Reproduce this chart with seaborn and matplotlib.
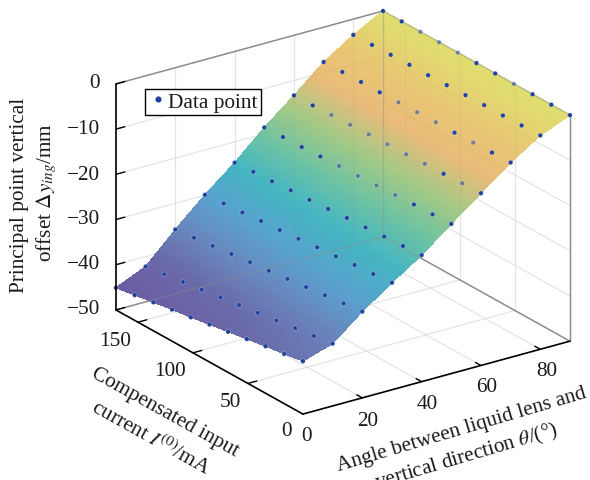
import numpy as np
import matplotlib
matplotlib.use("Agg")
import matplotlib.pyplot as plt
from matplotlib.lines import Line2D
import seaborn as sns

# lens angle (deg), compensated current (mA), vertical offset (mm)
theta = [0, 10, 20, 30, 40, 50, 60, 70, 80, 90]
current = [0, 17, 34, 51, 68, 85, 102, 119, 136, 153, 170]
offset = [
    [-38.3, -39.0, -39.6, -40.3, -41.0, -41.7, -42.4, -43.0, -43.7, -44.4, -45.1],
    [-36.2, -36.8, -37.4, -38.0, -38.6, -39.2, -39.8, -40.4, -41.0, -41.6, -42.2],
    [-30.9, -31.4, -31.9, -32.4, -32.9, -33.4, -33.8, -34.3, -34.8, -35.3, -35.8],
    [-26.3, -26.7, -27.0, -27.4, -27.7, -28.1, -28.5, -28.8, -29.2, -29.5, -29.9],
    [-22.0, -22.3, -22.5, -22.8, -23.0, -23.3, -23.6, -23.8, -24.1, -24.3, -24.6],
    [-16.9, -17.1, -17.2, -17.4, -17.6, -17.8, -17.9, -18.1, -18.3, -18.4, -18.6],
    [-11.9, -12.0, -12.2, -12.3, -12.5, -12.6, -12.7, -12.9, -13.0, -13.2, -13.3],
    [-6.9, -7.0, -7.1, -7.2, -7.2, -7.3, -7.4, -7.5, -7.5, -7.6, -7.7],
    [-2.7, -2.8, -2.9, -2.9, -3.0, -3.1, -3.2, -3.2, -3.3, -3.4, -3.5],
    [0.0, 0.0, 0.0, 0.0, 0.0, 0.0, 0.0, 0.0, 0.0, 0.0, 0.0],
]
theta_ticks = [20, 40, 60, 80]
current_ticks = [50, 100, 150]
offset_ticks = [0, -10, -20, -30, -40, -50]
# one stop per 5 mm from -45 to 0
surface_colors = ["#6b5ca2", "#6a6bab", "#6888bf", "#58a3cf", "#45b6c2",
                  "#6ec3a3", "#a6c985", "#eabb79", "#e8c873", "#dfdf6e"]
# dots half hidden by the surface: (theta index, current index)
faint_dots = [(9, 8), (9, 7), (9, 6), (9, 3),
              (7, 6), (7, 5), (7, 4), (7, 2),
              (6, 8), (6, 7), (6, 6), (6, 5), (6, 4), (6, 3), (6, 1),
              (5, 6), (5, 5), (5, 4), (5, 3)]

W, H = 590, 481
GRID = "#ececec"
EDGE = "#8c8c8c"
DOT = "#1f429c"

sns.set_theme(style="white")
plt.rcParams["font.family"] = ["Liberation Serif", "DejaVu Serif"]
plt.rcParams["mathtext.fontset"] = "stix"

def px(x, y):
    return x / W, 1 - y / H

fig = plt.figure(figsize=(W / 100, H / 100), dpi=100)
L = 700
ax = fig.add_axes([-16.5 / W, -92 / H, L / W, L / H], projection="3d", proj_type="ortho", computed_zorder=False)
ax.view_init(elev=22.95, azim=-125)
ax.set_box_aspect((1, 1, 0.753), zoom=0.7243)
ax.set_xlim(0, 90, view_margin=0)
ax.set_ylim(0, 170, view_margin=0)
ax.set_zlim(-50, 0, view_margin=0)
ax.set_axis_off()

t0, t1 = theta[0], theta[-1]
c0, c1 = current[0], current[-1]
z0, z1 = offset_ticks[-1], offset_ticks[0]

def draw_walls(grid_color, grid_alpha, edge_alpha, zorder):
    # grid on the floor and the two back walls
    for t in theta_ticks:
        ax.plot([t, t], [c0, c1], [z0, z0], color=grid_color, alpha=grid_alpha, lw=0.8, zorder=zorder)
        ax.plot([t, t], [c1, c1], [z0, z1], color=grid_color, alpha=grid_alpha, lw=0.8, zorder=zorder)
    for c in current_ticks:
        ax.plot([t0, t1], [c, c], [z0, z0], color=grid_color, alpha=grid_alpha, lw=0.8, zorder=zorder)
        ax.plot([t1, t1], [c, c], [z0, z1], color=grid_color, alpha=grid_alpha, lw=0.8, zorder=zorder)
    for z in offset_ticks[1:-1]:
        ax.plot([t0, t1], [c1, c1], [z, z], color=grid_color, alpha=grid_alpha, lw=0.8, zorder=zorder)
        ax.plot([t1, t1], [c0, c1], [z, z], color=grid_color, alpha=grid_alpha, lw=0.8, zorder=zorder)
    # grey box edges
    box_edges = [
        ([t0, t1], [c1, c1], [z1, z1]),
        ([t1, t1], [c0, c1], [z1, z1]),
        ([t1, t1], [c0, c0], [z0, z1]),
        ([t1, t1], [c1, c1], [z0, z1]),
        ([t1, t1], [c0, c1], [z0, z0]),
        ([t0, t1], [c1, c1], [z0, z0]),
    ]
    for xs, ys, zs in box_edges:
        ax.plot(xs, ys, zs, color=EDGE, alpha=edge_alpha, lw=1.0, zorder=zorder + 0.1)

draw_walls(GRID, 1.0, 1.0, 1)

# fine mesh only for smooth colour shading of the measured grid
Z = np.array(offset)
fine_t = np.linspace(t0, t1, 181)
fine_c = np.linspace(c0, c1, 171)
Zc = np.array([np.interp(fine_c, current, row) for row in Z])
Zf = np.array([np.interp(fine_t, theta, col) for col in Zc.T])
Tf, Cf = np.meshgrid(fine_t, fine_c)
cmap = sns.blend_palette(surface_colors, as_cmap=True)
face = cmap(np.clip((Zf + 45) / 45, 0, 1))
ax.plot_surface(Tf, Cf, Zf, facecolors=face, rstride=1, cstride=1, linewidth=0, antialiased=False, shade=False, zorder=2)

# walls showing faintly through the surface
draw_walls("#707070", 0.07, 0.4, 2.5)

T, C = np.meshgrid(theta, current, indexing="ij")
dot_rgba = np.tile(matplotlib.colors.to_rgba(DOT), (T.size, 1))
for i, j in faint_dots:
    dot_rgba[i * len(current) + j, 3] = 0.55
ax.scatter(T.ravel(), C.ravel(), Z.ravel(), s=11, c=dot_rgba, edgecolors=(1, 1, 1, 0.45), linewidths=0.4,
           depthshade=False, zorder=3)

# front axis lines and ticks
ax.plot([t0, t1], [c0, c0], [z0, z0], color="black", lw=1.2, zorder=4)
ax.plot([t0, t0], [c0, c1], [z0, z0], color="black", lw=1.2, zorder=4)
ax.plot([t0, t0], [c1, c1], [z0, z1], color="black", lw=1.2, zorder=4)
for t in theta_ticks:
    ax.plot([t, t], [c0, 5], [z0, z0], color="black", lw=1.0, zorder=4)
for c in current_ticks:
    ax.plot([t0, 3], [c, c], [z0, z0], color="black", lw=1.0, zorder=4)
for z in offset_ticks:
    ax.plot([t0, 3], [c1, c1], [z, z], color="black", lw=1.0, zorder=4)

FS = 15.3
for z, y in zip(offset_ticks, [83, 130, 175, 220, 265, 310]):
    lab = "0" if z == 0 else "\u2212%d" % abs(z)
    fig.text(*px(100, y), lab, fontsize=FS, ha="right", va="center", color="#1a1a1a")
for c, pos in zip([0, 50, 100, 150], [(287, 432), (230, 403), (170, 372), (115, 342)]):
    fig.text(*px(*pos), str(c), fontsize=FS, ha="center", va="center", color="#1a1a1a")
for t, pos in zip([0, 20, 40, 60, 80], [(306, 437), (368, 422), (427, 405), (487, 388), (547, 372)]):
    fig.text(*px(*pos), str(t), fontsize=FS, ha="center", va="center", color="#1a1a1a")

fig.text(*px(165, 413), "Compensated input", fontsize=FS, rotation=-29, rotation_mode="anchor", ha="center", va="center", color="#1a1a1a")
fig.text(*px(151, 438), r"current $I^{(0)}$/mA", fontsize=FS, rotation=-29, rotation_mode="anchor", ha="center", va="center", color="#1a1a1a")
fig.text(*px(462, 430), "Angle between liquid lens and", fontsize=FS, rotation=16.5, rotation_mode="anchor", ha="center", va="center", color="#1a1a1a")
fig.text(*px(467, 457), r"vertical direction $\theta$/(°)", fontsize=FS, rotation=16.5, rotation_mode="anchor", ha="center", va="center", color="#1a1a1a")
fig.text(*px(20, 195), "Principal point vertical", fontsize=FS, rotation=90, ha="center", va="center", color="#1a1a1a")
fig.text(*px(47, 193), r"offset $\Delta y_{ing}$/mm", fontsize=FS, rotation=90, ha="center", va="center", color="#1a1a1a")

handle = Line2D([], [], ls="", marker="o", ms=3.4, color=DOT, label="Data point")
x0, y0 = px(145, 116)
ax.legend(handles=[handle], loc="lower left", bbox_to_anchor=(x0, y0), bbox_transform=fig.transFigure, frameon=True,
          fancybox=False, framealpha=1, edgecolor="black", fontsize=FS, borderpad=0.15, borderaxespad=0,
          handletextpad=0.0, handlelength=0.95, labelcolor="#1a1a1a")

fig.savefig("out.png", dpi=100)
